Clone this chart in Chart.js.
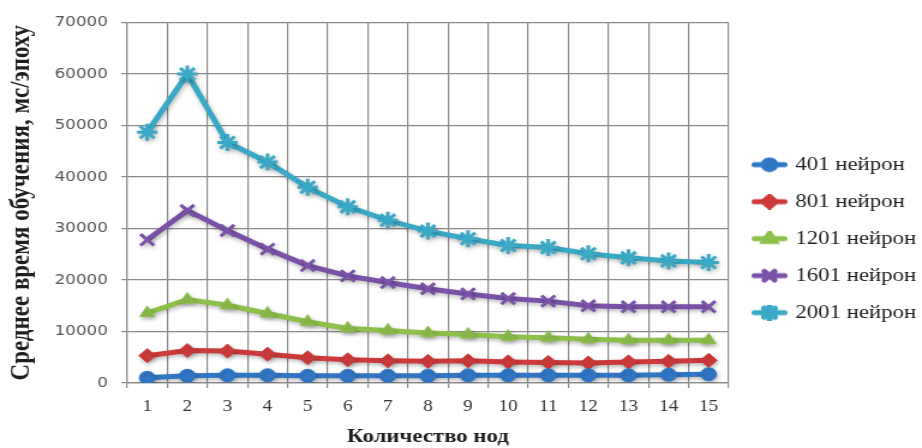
<!DOCTYPE html>
<html lang="ru">
<head>
<meta charset="utf-8">
<title>Среднее время обучения</title>
<script src="https://cdn.jsdelivr.net/npm/chart.js@4.4.1/dist/chart.umd.min.js"></script>
<style>
  html, body { margin: 0; padding: 0; background: #ffffff; overflow: hidden; }
  /* the drawing is laid out 768 wide and widened to the 922px window */
  #wrap { position: absolute; left: 0; top: 0; width: 768px; height: 448px;
          transform: scaleX(1.2005); transform-origin: 0 0; }
</style>
</head>
<body>
<div id="wrap"><canvas id="chart"></canvas></div>
<script>
// Количество нод
const nodes = ['1', '2', '3', '4', '5', '6', '7', '8', '9', '10', '11', '12', '13', '14', '15'];

// Среднее время обучения, мс/эпоху
const n401  = [1000, 1400, 1500, 1500, 1400, 1400, 1400, 1400, 1500, 1500, 1500, 1500, 1500, 1600, 1700];
const n801  = [5300, 6300, 6200, 5600, 4900, 4500, 4300, 4200, 4300, 4100, 4000, 3900, 4100, 4200, 4400];
const n1201 = [13600, 16200, 15100, 13500, 11900, 10600, 10200, 9700, 9400, 9000, 8800, 8500, 8300, 8300, 8300];
const n1601 = [27800, 33500, 29600, 26000, 22800, 20800, 19500, 18300, 17300, 16400, 15900, 15000, 14800, 14800, 14800];
const n2001 = [48700, 60000, 46700, 42900, 38000, 34200, 31600, 29500, 28000, 26700, 26300, 25100, 24300, 23700, 23400];

const seriesNames = ['401 нейрон', '801 нейрон', '1201 нейрон', '1601 нейрон', '2001 нейрон'];
const yTicks = [0, 10000, 20000, 30000, 40000, 50000, 60000, 70000];

const colours = ['#3077c6', '#cc3b3a', '#8dbf4b', '#7a52a8', '#39a9c6'];
const markers = [
  { style: 'circle',   radius: 6.5, border: 1 },
  { style: 'rectRot',  radius: 7,   border: 1 },
  { style: 'triangle', radius: 7,   border: 1 },
  { style: 'crossRot', radius: 8,   border: 3 },
  { style: 'star',     radius: 8.5, border: 3 }
];

const values = [n401, n801, n1201, n1601, n2001];

const datasets = values.map((data, i) => ({
  label: seriesNames[i],
  data: data,
  borderColor: colours[i],
  backgroundColor: colours[i],
  borderWidth: 5,
  tension: 0,
  pointStyle: markers[i].style,
  pointRadius: markers[i].radius,
  pointBorderWidth: markers[i].border,
  pointBackgroundColor: colours[i],
  pointBorderColor: colours[i],
  pointHoverRadius: markers[i].radius
}));

// legend sample: a short thick line with the series marker in the middle
function legendSample(i) {
  const c = document.createElement('canvas');
  c.width = 34; c.height = 16;
  const ctx = c.getContext('2d');
  ctx.strokeStyle = colours[i];
  ctx.fillStyle = colours[i];
  ctx.lineCap = 'round';
  ctx.lineWidth = 5;
  ctx.beginPath();
  ctx.moveTo(6.5, 8); ctx.lineTo(31.5, 8);
  ctx.stroke();
  Chart.helpers.drawPoint(ctx, {
    pointStyle: markers[i].style,
    radius: markers[i].radius * 0.75,
    borderWidth: Math.min(markers[i].border, 2),
    rotation: 0
  }, 19, 8);
  return c;
}

// soft drop shadow under the series lines
const lineShadow = {
  id: 'lineShadow',
  beforeDatasetsDraw(chart) {
    const ctx = chart.ctx;
    ctx.save();
    ctx.shadowColor = 'rgba(0, 0, 0, 0.28)';
    ctx.shadowBlur = 4;
    ctx.shadowOffsetX = 1;
    ctx.shadowOffsetY = 2;
  },
  afterDatasetsDraw(chart) {
    chart.ctx.restore();
  }
};

const gridColour = '#8a8a8a';

new Chart(document.getElementById('chart'), {
  type: 'line',
  data: { labels: nodes, datasets: datasets },
  plugins: [lineShadow],
  options: {
    responsive: true,
    maintainAspectRatio: false,
    animation: false,
    devicePixelRatio: 1,
    layout: { padding: { left: 2, right: 0, top: 22.5, bottom: 0 } },
    plugins: {
      tooltip: { enabled: false },
      legend: {
        position: 'right',
        align: 'center',
        maxWidth: 161,
        title: { display: true, text: '', font: { size: 4 }, padding: 1 },
        labels: {
          usePointStyle: true,
          pointStyleWidth: 28,
          padding: 18,
          color: '#1e1e1e',
          font: { family: '"Liberation Serif", "Times New Roman", serif', size: 19 },
          generateLabels: (chart) => chart.data.datasets.map((ds, i) => ({
            text: ds.label,
            fillStyle: ds.borderColor,
            strokeStyle: ds.borderColor,
            lineWidth: 0,
            pointStyle: legendSample(i),
            datasetIndex: i,
            hidden: false,
            fontColor: '#1e1e1e'
          }))
        }
      }
    },
    scales: {
      x: {
        offset: true,
        grid: { offset: true, color: gridColour, lineWidth: 1.2, tickLength: 5, drawTicks: true },
        border: { color: gridColour, width: 1.2 },
        ticks: {
          color: '#333333',
          padding: 9,
          maxRotation: 0,
          autoSkip: false,
          font: { family: '"Liberation Serif", "Times New Roman", serif', size: 16 }
        },
        title: {
          display: true,
          text: 'Количество нод',
          color: '#1e1e1e',
          padding: { top: 0, bottom: 0 },
          font: { family: '"Liberation Serif", "Times New Roman", serif', size: 19, weight: 'bold' }
        }
      },
      y: {
        min: yTicks[0],
        max: yTicks[yTicks.length - 1],
        afterBuildTicks: (scale) => { scale.ticks = yTicks.map(v => ({ value: v })); },
        grid: { color: gridColour, lineWidth: 1.2, tickLength: 5 },
        border: { color: gridColour, width: 1.2 },
        ticks: {
          color: '#555555',
          padding: 11,
          callback: (v) => String(v),
          font: { family: '"DejaVu Sans", Verdana, sans-serif', size: 14 }
        },
        title: {
          display: true,
          text: 'Среднее время обучения, мс/эпоху',
          color: '#1e1e1e',
          padding: { top: 2, bottom: 2.8 },
          font: { family: '"Liberation Serif", "Times New Roman", serif', size: 23, weight: 'bold' }
        }
      }
    }
  }
});
</script>
</body>
</html>
